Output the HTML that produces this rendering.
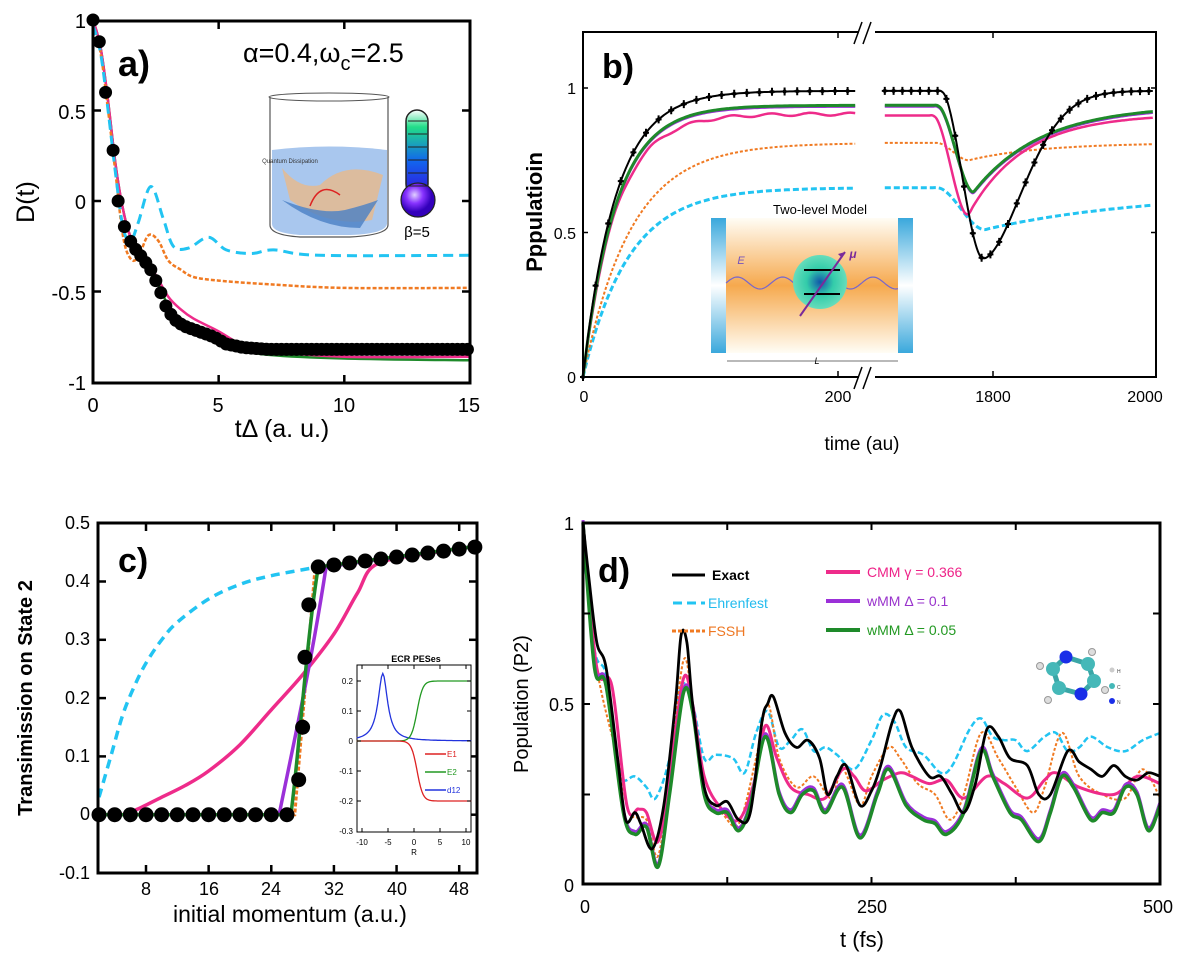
<!DOCTYPE html>
<html><head><meta charset="utf-8"><style>
html,body{margin:0;padding:0;background:#fff}
svg{display:block}
text{font-family:"Liberation Sans",Arial,sans-serif}
</style></head><body>
<svg id="s" width="1192" height="959" viewBox="0 0 1192 959" xmlns="http://www.w3.org/2000/svg">
<defs>
<linearGradient id="cav" x1="0" y1="0" x2="0" y2="1">
<stop offset="0" stop-color="#fffdf5"/><stop offset="0.5" stop-color="#f6a94e"/><stop offset="1" stop-color="#fffdf5"/></linearGradient>
<linearGradient id="mir" x1="0" y1="0" x2="0" y2="1">
<stop offset="0" stop-color="#3aa8dc"/><stop offset="0.5" stop-color="#ffffff"/><stop offset="1" stop-color="#3aa8dc"/></linearGradient>
<linearGradient id="therm" x1="0" y1="0" x2="0" y2="1">
<stop offset="0" stop-color="#ffffff"/><stop offset="0.2" stop-color="#22dd88"/><stop offset="0.6" stop-color="#1166ee"/><stop offset="1" stop-color="#3311dd"/></linearGradient>
<radialGradient id="bulb" cx="0.4" cy="0.35"><stop offset="0" stop-color="#e0d0ff"/><stop offset="0.5" stop-color="#8833ff"/><stop offset="1" stop-color="#3300bb"/></radialGradient>
<radialGradient id="atom" cx="0.5" cy="0.5"><stop offset="0" stop-color="#1155aa"/><stop offset="0.5" stop-color="#33ccaa"/><stop offset="1" stop-color="#66ddbb"/></radialGradient>
</defs>
<g id="g"></g>
<g id="g2"></g>
<!-- Panel a labels -->
<text x="118" y="76" font-size="36" font-weight="bold">a)</text>
<text x="243" y="62" font-size="27">α=0.4,ω<tspan font-size="20" dy="8">c</tspan><tspan dy="-8">=2.5</tspan></text>
<text transform="translate(34,202) rotate(-90)" font-size="25" text-anchor="middle">D(t)</text>
<text x="282" y="437" font-size="25" text-anchor="middle">tΔ (a. u.)</text>
<g font-size="20" text-anchor="end">
<text x="86" y="28">1</text><text x="86" y="119">0.5</text><text x="86" y="209">0</text><text x="86" y="300">-0.5</text><text x="86" y="390">-1</text></g>
<g font-size="20" text-anchor="middle">
<text x="93" y="412">0</text><text x="218" y="412">5</text><text x="344" y="412">10</text><text x="469" y="412">15</text></g>
<text x="290" y="163" font-size="6" text-anchor="middle" fill="#333">Quantum Dissipation</text>
<text x="417" y="237" font-size="15" text-anchor="middle">β=5</text>
<!-- Panel b labels -->
<text x="602" y="78" font-size="34" font-weight="bold">b)</text>
<text transform="translate(542,212) rotate(-90)" font-size="22" font-weight="bold" text-anchor="middle">Pppulatioin</text>
<text x="862" y="450" font-size="19" text-anchor="middle">time (au)</text>
<g font-size="16" text-anchor="end"><text x="576" y="94">1</text><text x="576" y="239">0.5</text><text x="576" y="383">0</text></g>
<g font-size="16" text-anchor="middle"><text x="584" y="402">0</text><text x="838" y="402">200</text><text x="993" y="402">1800</text><text x="1145" y="402">2000</text></g>
<!-- Panel c labels -->
<text x="118" y="572" font-size="34" font-weight="bold">c)</text>
<text transform="translate(32,698) rotate(-90)" font-size="20" font-weight="bold" text-anchor="middle">Transimission on State 2</text>
<text x="290" y="922" font-size="23" text-anchor="middle">initial momentum (a.u.)</text>
<g font-size="18" text-anchor="end">
<text x="90" y="529">0.5</text><text x="90" y="587">0.4</text><text x="90" y="645">0.3</text><text x="90" y="704">0.2</text><text x="90" y="762">0.1</text><text x="90" y="820">0</text><text x="90" y="879">-0.1</text></g>
<g font-size="18" text-anchor="middle">
<text x="146" y="895">8</text><text x="209" y="895">16</text><text x="271" y="895">24</text><text x="334" y="895">32</text><text x="397" y="895">40</text><text x="459" y="895">48</text></g>
<text x="416" y="662" font-size="9" font-weight="bold" text-anchor="middle">ECR PESes</text>
<g font-size="8" text-anchor="end"><text x="353" y="684">0.2</text><text x="353" y="714">0.1</text><text x="353" y="744">0</text><text x="353" y="774">-0.1</text><text x="353" y="804">-0.2</text><text x="353" y="834">-0.3</text></g>
<g font-size="8" text-anchor="middle"><text x="362" y="845">-10</text><text x="388" y="845">-5</text><text x="414" y="845">0</text><text x="440" y="845">5</text><text x="466" y="845">10</text><text x="414" y="855">R</text></g>
<g font-size="8"><text x="447" y="757" fill="#dd2222">E1</text><text x="447" y="775" fill="#229922">E2</text><text x="447" y="793" fill="#2233dd">d12</text></g>
<!-- Panel d labels -->
<text x="598" y="582" font-size="34" font-weight="bold">d)</text>
<text transform="translate(528,704) rotate(-90)" font-size="20" text-anchor="middle">Population (P2)</text>
<text x="862" y="947" font-size="22" text-anchor="middle">t (fs)</text>
<g font-size="18" text-anchor="end"><text x="574" y="530">1</text><text x="574" y="711">0.5</text><text x="574" y="892">0</text></g>
<g font-size="18" text-anchor="middle"><text x="585" y="913">0</text><text x="872" y="913">250</text><text x="1158" y="913">500</text></g>
<g font-size="14">
<text x="712" y="580" font-weight="bold">Exact</text>
<text x="708" y="608" fill="#22bbee">Ehrenfest</text>
<text x="708" y="636" fill="#ee7722">FSSH</text>
<text x="867" y="577" fill="#ee2288">CMM γ = 0.366</text>
<text x="867" y="606" fill="#9933cc">wMM Δ = 0.1</text>
<text x="867" y="635" fill="#229922">wMM Δ = 0.05</text>
</g>
<g font-size="5" fill="#444"><text x="1117" y="673">H</text><text x="1117" y="689">C</text><text x="1117" y="704">N</text></g>
</svg>
<script>
var NS="http://www.w3.org/2000/svg",G=document.getElementById('g');
function el(t,a){var e=document.createElementNS(NS,t);for(var k in a)e.setAttribute(k,a[k]);G.appendChild(e);return e;}
function spline(pts){
 var d="M"+pts[0][0].toFixed(1)+","+pts[0][1].toFixed(1);
 for(var i=0;i<pts.length-1;i++){var p0=pts[i-1]||pts[i],p1=pts[i],p2=pts[i+1],p3=pts[i+2]||p2;
  var c1=[p1[0]+(p2[0]-p0[0])/6,p1[1]+(p2[1]-p0[1])/6],c2=[p2[0]-(p3[0]-p1[0])/6,p2[1]-(p3[1]-p1[1])/6];
  d+="C"+c1[0].toFixed(1)+","+c1[1].toFixed(1)+" "+c2[0].toFixed(1)+","+c2[1].toFixed(1)+" "+p2[0].toFixed(1)+","+p2[1].toFixed(1);}
 return d;}
function line(pts,fx,fy,col,w,dash,op){var p=pts.map(function(q){return [fx(q[0]),fy(q[1])];});
 var a={d:spline(p),fill:"none",stroke:col,"stroke-width":w,"stroke-linejoin":"round"};if(dash)a["stroke-dasharray"]=dash;if(op)a.opacity=op;el("path",a);}
function interp(pts,x){for(var i=0;i<pts.length-1;i++){if(x<=pts[i+1][0]){var t=(x-pts[i][0])/(pts[i+1][0]-pts[i][0]);return pts[i][1]+t*(pts[i+1][1]-pts[i][1]);}}return pts[pts.length-1][1];}
function box(x0,y0,x1,y1,w){el("rect",{x:x0,y:y0,width:x1-x0,height:y1-y0,fill:"none",stroke:"#000","stroke-width":w||3});}
function tk(x1,y1,x2,y2,w){el("line",{x1:x1,y1:y1,x2:x2,y2:y2,stroke:"#000","stroke-width":w||2.5});}
var BL="#000",CY="#22c4f2",OR="#f07a22",PK="#ee2b8a",PU="#9b30d8",GR="#1e8a2a";

/* ---------- Panel a ---------- */
(function(){var fx=function(x){return 93+x*25.13},fy=function(y){return 201-y*181};
 el("path",{d:"M270,97 L270,225 Q270,235 300,237 L350,237 Q388,235 388,225 L388,97",fill:"none",stroke:"#555","stroke-width":1.2});
 el("ellipse",{cx:329,cy:97,rx:60,ry:4,fill:"none",stroke:"#555","stroke-width":1});
 el("path",{d:"M272,150 Q329,143 387,150 L387,224 Q385,234 350,235 L300,235 Q272,233 272,224 Z",fill:"#a9c7ee"});
 el("path",{d:"M282,168 Q300,190 320,185 Q345,160 383,175 L372,220 Q330,228 290,200 Z",fill:"#e9b98a",opacity:0.8});
 el("path",{d:"M282,200 Q320,215 345,210 Q365,205 378,200 L360,228 Q320,228 282,200Z",fill:"#4a7fc4",opacity:0.8});
 el("path",{d:"M310,206 Q320,180 340,195",fill:"none",stroke:"#dd2222","stroke-width":1.5});
 el("rect",{x:406,y:110,width:22,height:85,rx:11,fill:"url(#therm)",stroke:"#222","stroke-width":1.5});
 el("circle",{cx:418,cy:200,r:17,fill:"url(#bulb)",stroke:"#222","stroke-width":1.2});
 for(var i=0;i<6;i++)el("line",{x1:408,x2:427,y1:121+i*13,y2:121+i*13,stroke:"#222","stroke-width":1});
 var ex=[[0,1],[0.25,0.88],[0.5,0.6],[0.8,0.28],[1,0],[1.3,-0.17],[1.6,-0.25],[2,-0.32],[2.3,-0.38],[2.6,-0.47],[2.9,-0.58],[3.2,-0.65],[3.6,-0.69],[4.2,-0.72],[4.8,-0.75],[5.3,-0.79],[6,-0.81],[7,-0.82],[15,-0.82]];
 line([[0,1],[0.3,0.85],[0.6,0.55],[0.9,0.2],[1.2,-0.05],[1.5,-0.2],[2,-0.32],[2.5,-0.43],[3,-0.58],[3.5,-0.65],[4,-0.69],[5,-0.77],[6,-0.82],[7,-0.85],[10,-0.87],[15,-0.88]],fx,fy,GR,2.5);
 line([[0,1],[0.3,0.85],[0.6,0.55],[0.9,0.2],[1.2,-0.05],[1.5,-0.2],[2,-0.31],[2.5,-0.41],[3,-0.53],[3.5,-0.6],[4,-0.65],[5,-0.72],[6,-0.8],[7,-0.83],[10,-0.86],[15,-0.86]],fx,fy,PK,2.5);
 line([[0,0.97],[0.3,0.82],[0.6,0.5],[0.9,0.15],[1.2,-0.2],[1.5,-0.32],[1.8,-0.31],[2.2,-0.19],[2.6,-0.22],[3,-0.33],[3.5,-0.38],[4,-0.42],[5,-0.44],[7,-0.46],[10,-0.48],[15,-0.48]],fx,fy,OR,2.5,"4,2");
 line([[0,0.97],[0.3,0.82],[0.6,0.5],[0.9,0.15],[1.2,-0.15],[1.5,-0.22],[1.8,-0.12],[2.3,0.08],[2.8,-0.1],[3.2,-0.25],[3.8,-0.26],[4.6,-0.2],[5.3,-0.27],[6.3,-0.29],[7.2,-0.27],[9,-0.3],[15,-0.3]],fx,fy,CY,3,"10,6");
 var xs=[0,0.25,0.5,0.8,1.0,1.25,1.5];for(var x=1.7;x<=15.01;x+=0.2)xs.push(x);
 xs.forEach(function(x){var y=interp(ex,x);el("circle",{cx:fx(x),cy:fy(y),r:6.5,fill:"#000"});});
 box(93,21,470,383,3);
 [0.5,0,-0.5].forEach(function(v){tk(93,fy(v),101,fy(v));tk(470,fy(v),462,fy(v));});
 [5,10].forEach(function(v){tk(fx(v),383,fx(v),375);tk(fx(v),21,fx(v),29);});
})();

/* ---------- Panel b ---------- */
(function(){var L=583,R=1156,T=32,B=377;
 var fx=function(t){return t<1000?583+t*1.26:880+(t-1659)*0.8},fy=function(p){return 377-p*289};
 function seg(f,col,w,dash){var a=[],b=[];for(var t=0;t<=218;t+=4)a.push([t,f(t)]);for(var t=1665;t<=2000;t+=5)b.push([t,f(t)]);line(a,fx,fy,col,w,dash);line(b,fx,fy,col,w,dash);}
 function smoothstep(a,b,t){var u=Math.max(0,Math.min(1,(t-a)/(b-a)));return u*u*(3-2*u);}
 var fEx=function(t){if(t<1000)return 0.99*(1-Math.exp(-t/26));
   if(t<1735)return 0.99; if(t<1788)return 0.99-0.58*smoothstep(1735,1788,t); return 0.41+0.58*(1-Math.exp(-Math.pow((t-1788)/70,1.8)));};
 var fGr=function(t){if(t<1000)return 0.94*(1-Math.exp(-t/26));
   if(t<1730)return 0.94; if(t<1776)return 0.94-0.30*smoothstep(1730,1776,t); return 0.64+0.30*(1-Math.exp(-(t-1776)/85));};
 var fPk=function(t){if(t<1000)return 0.91*(1-Math.exp(-t/26))-0.005*Math.sin(t/5);
   if(t<1725)return 0.905; if(t<1769)return 0.905-0.345*smoothstep(1725,1769,t); return 0.56+0.35*(1-Math.exp(-(t-1769)/70));};
 var fOr=function(t){if(t<1000)return 0.81*(1-Math.exp(-t/38));
   if(t<1730)return 0.81; if(t<1770)return 0.81-0.06*smoothstep(1730,1770,t); return 0.75+0.06*(1-Math.exp(-(t-1770)/90));};
 var fCy=function(t){if(t<1000)return 0.655*(1-Math.exp(-t/36));
   if(t<1730)return 0.655; if(t<1790)return 0.655-0.145*smoothstep(1730,1790,t); return 0.51+0.13*(1-Math.exp(-(t-1790)/200));};
 seg(fCy,CY,3,"6,3");seg(fOr,OR,2,"3,2");seg(fPk,PK,2.5);seg(function(t){return fGr(t)-0.004},PU,2.5);seg(fGr,GR,3);seg(fEx,BL,2);
 function plus(x,y){el("path",{d:"M"+(x-3)+","+y+"h6M"+x+","+(y-4)+"v8",stroke:"#000","stroke-width":2});el("circle",{cx:x,cy:y,r:2,fill:"#000"});}
 for(var t=0;t<=218;t+=10)plus(fx(t),fy(fEx(t)));
 for(var t=1665;t<=2000;t+=11)plus(fx(t),fy(fEx(t)));
 el("rect",{x:L,y:T,width:R-L,height:B-T,fill:"none",stroke:"#000","stroke-width":2});
 el("rect",{x:859,y:20,width:16,height:20,fill:"#fff"});el("rect",{x:859,y:368,width:16,height:24,fill:"#fff"});
 el("line",{x1:854,y1:44,x2:862,y2:22,stroke:"#000","stroke-width":1.5});el("line",{x1:863,y1:44,x2:871,y2:22,stroke:"#000","stroke-width":1.5});
 el("line",{x1:854,y1:389,x2:862,y2:367,stroke:"#000","stroke-width":1.5});el("line",{x1:863,y1:389,x2:871,y2:367,stroke:"#000","stroke-width":1.5});
 [0.5,1].forEach(function(v){tk(L,fy(v),L+5,fy(v),1.5);tk(R,fy(v),R-5,fy(v),1.5);});
 [838,993].forEach(function(x){tk(x,B,x,B-6,1.5);tk(x,T,x,T+6,1.5);});
 // inset cavity (drawn over curves)
 el("rect",{x:711,y:218,width:189,height:135,fill:"url(#cav)"});
 el("rect",{x:711,y:218,width:15,height:135,fill:"url(#mir)"});
 el("rect",{x:898,y:218,width:15,height:135,fill:"url(#mir)"});
 var w="M726,283";for(var x=726;x<=898;x+=2)w+="L"+x+","+(283-6*Math.sin((x-726)/7.2)).toFixed(1);
 el("path",{d:w,fill:"none",stroke:"#7766cc","stroke-width":1.2});
 el("circle",{cx:820,cy:282,r:27,fill:"url(#atom)"});
 el("line",{x1:804,x2:840,y1:270,y2:270,stroke:"#000","stroke-width":2});
 el("line",{x1:804,x2:840,y1:294,y2:294,stroke:"#000","stroke-width":2});
 el("line",{x1:800,x2:845,y1:316,y2:252,stroke:"#7a2a9a","stroke-width":2});
 el("path",{d:"M845,252 l-7,2 l4,4z",fill:"#7a2a9a"});
 el("line",{x1:727,x2:898,y1:361,y2:361,stroke:"#444","stroke-width":0.8});
 var tx=function(x,y,s,txt,o){var e=el("text",{x:x,y:y,"font-size":s,"text-anchor":"middle"});for(var k in o)e.setAttribute(k,o[k]);e.textContent=txt;};
 tx(820,214,13,"Two-level Model",{});
 tx(741,264,11,"E",{"font-style":"italic",fill:"#7755bb"});
 tx(853,258,12,"μ",{"font-style":"italic","font-weight":"bold",fill:"#7a2a9a"});
 tx(817,364,9,"L",{"font-style":"italic"});
})();

/* ---------- Panel c ---------- */
(function(){var fx=function(x){return 146+(x-8)*7.83},fy=function(y){return 873-(y+0.1)*583};
 line([[2,0.03],[3.5,0.1],[5,0.17],[6.5,0.22],[8,0.26],[10,0.3],[12,0.33],[16,0.37],[20,0.395],[24,0.41],[30,0.425]],fx,fy,CY,3.5,"9,6");
 line([[5,0],[7,0.01],[10,0.03],[13,0.05],[16,0.075],[20,0.12],[24,0.18],[28,0.24],[32,0.31],[35,0.38],[37.5,0.43],[45,0.45],[50,0.46]],fx,fy,PK,3.5);
 el("path",{d:"M"+fx(2)+","+fy(0)+"L"+fx(27)+","+fy(0)+"L"+fx(29.6)+","+fy(0.425),fill:"none",stroke:OR,"stroke-width":3,"stroke-dasharray":"4,2"});
 el("path",{d:"M"+fx(2)+","+fy(0)+"L"+fx(25)+","+fy(0)+"C"+fx(26.5)+","+fy(0.1)+" "+fx(29)+","+fy(0.25)+" "+fx(31)+","+fy(0.425)+"L"+fx(50)+","+fy(0.46),fill:"none",stroke:PU,"stroke-width":3.5});
 el("path",{d:"M"+fx(2)+","+fy(0)+"L"+fx(26.5)+","+fy(0)+"C"+fx(27.5)+","+fy(0.1)+" "+fx(28.5)+","+fy(0.3)+" "+fx(30)+","+fy(0.425)+"L"+fx(50)+","+fy(0.46),fill:"none",stroke:GR,"stroke-width":3.5});
 var d=[];for(var x=2;x<=27;x+=2)d.push([x,0]);d.push([27.5,0.06],[28,0.15],[28.3,0.27],[28.8,0.36]);
 for(var x=30;x<=50.3;x+=2)d.push([x,0.425+(x-30)*0.0017]);
 d.forEach(function(q){el("circle",{cx:fx(q[0]),cy:fy(q[1]),r:7.5,fill:"#000"});});
 box(98,523,477,873,3);
 [0.4,0.3,0.2,0.1,0].forEach(function(v){tk(98,fy(v),106,fy(v));tk(477,fy(v),469,fy(v));});
 [8,16,24,32,40,48].forEach(function(v){tk(fx(v),873,fx(v),865);tk(fx(v),523,fx(v),531);});
 var ix=function(r){return 362+(r+10)*5.2},iy=function(e){return 741-e*300};
 el("rect",{x:357,y:665,width:114,height:167,fill:"#fff",stroke:"#000","stroke-width":1});
 var pb="",pg="",pr="";for(var r=-11;r<=11;r+=0.25){var b=0.225/(1+Math.pow((r+6)/1.1,2)),e=0.1*(1+Math.tanh((r-0.6)/1.1));
  pb+=(pb?"L":"M")+ix(r).toFixed(1)+","+iy(b).toFixed(1);pg+=(pg?"L":"M")+ix(r).toFixed(1)+","+iy(e).toFixed(1);pr+=(pr?"L":"M")+ix(r).toFixed(1)+","+iy(-e).toFixed(1);}
 el("path",{d:pb,fill:"none",stroke:"#2233dd","stroke-width":1.3});el("path",{d:pg,fill:"none",stroke:"#229922","stroke-width":1.3});el("path",{d:pr,fill:"none",stroke:"#dd2222","stroke-width":1.3});
 [[754,"#dd2222"],[772,"#229922"],[790,"#2233dd"]].forEach(function(a){el("line",{x1:425,x2:446,y1:a[0],y2:a[0],stroke:a[1],"stroke-width":1.5});});
 [0.2,0.1,0,-0.1,-0.2].forEach(function(v){tk(357,iy(v),361,iy(v),1);tk(471,iy(v),467,iy(v),1);});
 [-10,-5,0,5,10].forEach(function(v){tk(ix(v),832,ix(v),828,1);tk(ix(v),665,ix(v),669,1);});
})();

/* ---------- Panel d ---------- */
(function(){var fx=function(t){return 583+t*1.154},fy=function(p){return 885-p*362};
 var ex=[[0,1],[5,0.85],[12,0.67],[20,0.6],[30,0.35],[37,0.18],[45,0.2],[50,0.17],[60,0.1],[70,0.22],[80,0.5],[85,0.69],[90,0.67],[95,0.5],[105,0.27],[115,0.22],[125,0.23],[135,0.18],[145,0.2],[155,0.45],[160,0.5],[165,0.52],[175,0.42],[185,0.38],[195,0.4],[205,0.35],[212,0.25],[220,0.3],[228,0.33],[240,0.22],[250,0.26],[258,0.33],[268,0.45],[275,0.48],[285,0.38],[300,0.3],[310,0.3],[320,0.25],[330,0.2],[340,0.28],[350,0.43],[360,0.41],[370,0.35],[385,0.33],[395,0.25],[405,0.25],[420,0.37],[430,0.34],[440,0.32],[450,0.3],[460,0.33],[470,0.3],[480,0.29],[490,0.31],[500,0.3]];
 var cy=[[0,0.95],[10,0.65],[20,0.58],[30,0.35],[35,0.29],[45,0.3],[55,0.27],[63,0.24],[75,0.35],[85,0.55],[95,0.5],[105,0.35],[115,0.36],[130,0.35],[140,0.31],[150,0.42],[160,0.48],[170,0.38],[180,0.4],[190,0.43],[200,0.37],[210,0.38],[220,0.36],[235,0.32],[250,0.4],[260,0.47],[270,0.45],[280,0.38],[295,0.36],[310,0.31],[320,0.33],[335,0.43],[345,0.46],[355,0.41],[365,0.4],[375,0.4],[385,0.37],[400,0.41],[410,0.42],[420,0.37],[430,0.38],[440,0.41],[455,0.38],[470,0.37],[485,0.4],[500,0.42]];
 var pk=[[0,1],[12,0.6],[25,0.55],[38,0.22],[48,0.21],[55,0.2],[65,0.12],[75,0.3],[87,0.57],[95,0.5],[105,0.3],[120,0.21],[135,0.18],[148,0.28],[158,0.44],[168,0.35],[180,0.27],[195,0.25],[210,0.24],[225,0.32],[235,0.3],[245,0.26],[260,0.29],[275,0.31],[285,0.3],[300,0.28],[315,0.29],[330,0.24],[350,0.3],[365,0.28],[385,0.24],[400,0.29],[410,0.31],[430,0.27],[460,0.25],[480,0.3],[500,0.28]];
 var gr=[[0,1],[10,0.6],[20,0.55],[35,0.2],[45,0.14],[55,0.16],[65,0.05],[75,0.25],[87,0.53],[95,0.48],[105,0.25],[115,0.2],[125,0.2],[135,0.15],[145,0.22],[158,0.41],[170,0.25],[180,0.2],[190,0.25],[200,0.26],[210,0.2],[225,0.27],[240,0.13],[255,0.25],[265,0.32],[280,0.22],[295,0.18],[305,0.17],[315,0.14],[330,0.2],[345,0.37],[355,0.3],[370,0.2],[380,0.18],[395,0.12],[405,0.2],[415,0.3],[425,0.27],[440,0.18],[450,0.2],[460,0.2],[470,0.27],[480,0.25],[490,0.15],[500,0.22]];
 var or=[[0,0.95],[12,0.6],[30,0.35],[40,0.2],[55,0.18],[65,0.08],[75,0.3],[87,0.62],[95,0.5],[105,0.26],[120,0.2],[135,0.17],[150,0.35],[160,0.5],[170,0.35],[185,0.27],[200,0.3],[215,0.24],[225,0.32],[240,0.22],[250,0.3],[265,0.38],[275,0.35],[290,0.28],[305,0.25],[318,0.18],[330,0.25],[345,0.42],[360,0.35],[375,0.27],[390,0.2],[400,0.27],[415,0.42],[430,0.3],[450,0.25],[470,0.24],[485,0.32],[500,0.24]];
 line(cy,fx,fy,CY,2.5,"6,3");
 line(or,fx,fy,OR,2,"3,2");
 line(pk,fx,fy,PK,3);
 line(gr.map(function(q){return [q[0],q[1]+0.008]}),fx,fy,PU,3);
 line(gr,fx,fy,GR,3.5);
 line(ex,fx,fy,BL,2.8);
 el("line",{x1:672,x2:705,y1:575,y2:575,stroke:BL,"stroke-width":3});
 el("line",{x1:673,x2:705,y1:603,y2:603,stroke:CY,"stroke-width":3,"stroke-dasharray":"9,5"});
 el("line",{x1:672,x2:705,y1:631,y2:631,stroke:OR,"stroke-width":3,"stroke-dasharray":"4,2"});
 el("line",{x1:826,x2:860,y1:572,y2:572,stroke:PK,"stroke-width":4});
 el("line",{x1:826,x2:860,y1:601,y2:601,stroke:PU,"stroke-width":4});
 el("line",{x1:826,x2:860,y1:630,y2:630,stroke:GR,"stroke-width":4});
 [[1053,669,1066,657],[1066,657,1088,664],[1088,664,1094,681],[1094,681,1081,694],[1081,694,1059,688],[1059,688,1053,669]].forEach(function(b){el("line",{x1:b[0],y1:b[1],x2:b[2],y2:b[3],stroke:"#3aa6a6","stroke-width":5});});
 [[1040,666],[1092,652],[1105,690],[1048,700]].forEach(function(h){el("circle",{cx:h[0],cy:h[1],r:3.5,fill:"#ddd",stroke:"#999"});});
 [[1053,669],[1088,664],[1094,681],[1059,688]].forEach(function(c){el("circle",{cx:c[0],cy:c[1],r:7,fill:"#45b8b8"});});
 [[1066,657],[1081,694]].forEach(function(c){el("circle",{cx:c[0],cy:c[1],r:6.5,fill:"#1a2ee8"});});
 el("circle",{cx:1112,cy:670,r:2.5,fill:"#ccc"});el("circle",{cx:1112,cy:686,r:3,fill:"#45b8b8"});el("circle",{cx:1112,cy:701,r:3,fill:"#1a2ee8"});
 box(583,523,1160,884,3);
 [0.25,0.5,0.75].forEach(function(v){tk(583,fy(v),590,fy(v),2);tk(1160,fy(v),1153,fy(v),2);});
 [125,250,375].forEach(function(v){tk(fx(v),884,fx(v),877,2);tk(fx(v),523,fx(v),530,2);});
})();
</script>
</body></html>
